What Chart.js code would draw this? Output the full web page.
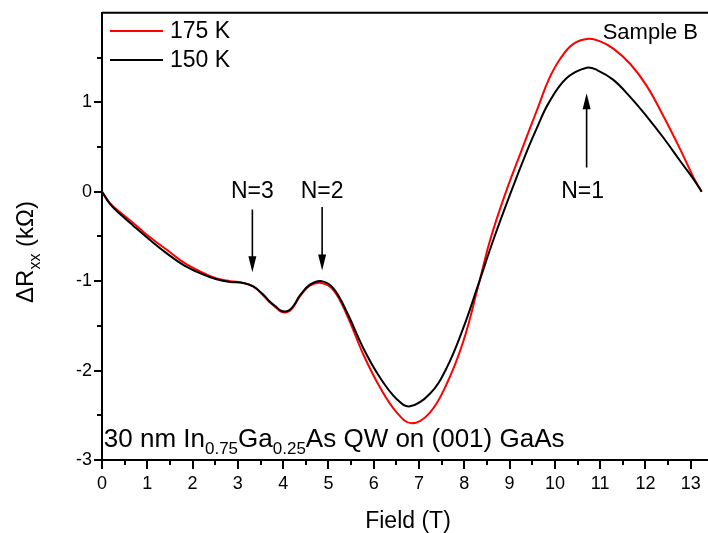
<!DOCTYPE html>
<html>
<head>
<meta charset="utf-8">
<script src="https://cdn.jsdelivr.net/npm/chart.js@4/dist/chart.umd.min.js"></script>
<style>
  body { margin: 0; background: #fff; }
  canvas { display: block; }
</style>
</head>
<body>
<canvas id="grafica" width="708" height="533"></canvas>
<script>
// valores: campo (T) y delta Rxx (kOhm)
var field175 = [0, 0.18, 0.4, 0.69, 1.06, 1.43, 1.8, 2.16, 2.53, 2.83, 3.12, 3.34, 3.56, 3.71, 3.85, 3.95, 4.05, 4.15, 4.25, 4.37, 4.59, 4.85, 5.11, 5.4, 5.77, 6.14, 6.51, 6.84, 7.24, 7.61, 7.98, 8.31, 8.57, 8.9, 9.27, 9.45, 9.64, 9.86, 10.11, 10.4, 10.74, 11.0, 11.29, 11.66, 12.03, 12.4, 12.77, 13.06, 13.24];
var dR175    = [0, -0.13, -0.23, -0.35, -0.51, -0.65, -0.79, -0.89, -0.97, -1.0, -1.02, -1.06, -1.16, -1.24, -1.3, -1.34, -1.35, -1.33, -1.27, -1.17, -1.05, -1.02, -1.1, -1.37, -1.82, -2.19, -2.47, -2.59, -2.47, -2.15, -1.67, -1.05, -0.54, -0.03, 0.47, 0.71, 0.96, 1.25, 1.48, 1.65, 1.71, 1.68, 1.6, 1.43, 1.18, 0.84, 0.47, 0.16, 0];

var field150 = [0, 0.18, 0.4, 0.69, 1.06, 1.43, 1.8, 2.16, 2.53, 2.83, 3.12, 3.34, 3.56, 3.71, 3.85, 3.95, 4.05, 4.15, 4.25, 4.37, 4.59, 4.85, 5.11, 5.4, 5.77, 6.14, 6.51, 6.8, 7.24, 7.61, 7.98, 8.3, 8.64, 9.01, 9.38, 9.6, 9.86, 10.26, 10.7, 10.93, 11.29, 11.66, 12.03, 12.4, 12.77, 13.06, 13.24];
var dR150    = [0, -0.14, -0.25, -0.38, -0.54, -0.69, -0.82, -0.91, -0.98, -1.01, -1.02, -1.06, -1.15, -1.23, -1.29, -1.33, -1.34, -1.32, -1.26, -1.16, -1.04, -1.0, -1.08, -1.34, -1.75, -2.08, -2.32, -2.4, -2.26, -1.97, -1.52, -1.05, -0.54, -0.03, 0.45, 0.71, 0.99, 1.27, 1.386, 1.36, 1.25, 1.06, 0.84, 0.6, 0.34, 0.14, 0];

var xTicks = [0, 1, 2, 3, 4, 5, 6, 7, 8, 9, 10, 11, 12, 13];
var yTicks = [-3, -2, -1, 0, 1];

// flechas de niveles de Landau: [texto, x, y texto, y inicio, y punta]
var flechas = [
  ["N=3", 3.32, 0.0, -0.2, -0.9],
  ["N=2", 4.86, 0.0, -0.17, -0.88],
  ["N=1", 10.7, 0.0, 0.27, 1.1]
];

var fuente = "'Liberation Sans', Arial, sans-serif";
Chart.defaults.font.family = fuente;
Chart.defaults.font.size = 18;
Chart.defaults.color = "#000";

function puntos(xs, ys) {
  return xs.map(function (v, i) { return { x: v, y: ys[i] }; });
}

// dibuja texto con subindices, devuelve el ancho
function textoRico(ctx, partes, x, y, size, medir) {
  var w = 0;
  for (var i = 0; i < partes.length; i++) {
    var sub = partes[i][1];
    ctx.font = (sub ? Math.round(size * 0.66) : size) + "px " + fuente;
    if (!medir) ctx.fillText(partes[i][0], x + w, y + (sub ? size * 0.3 : 0));
    w += ctx.measureText(partes[i][0]).width;
  }
  return w;
}

function flecha(ctx, x, y1, y2) {
  var dir = y2 > y1 ? 1 : -1;
  ctx.beginPath();
  ctx.moveTo(x, y1);
  ctx.lineTo(x, y2 - dir * 12);
  ctx.stroke();
  ctx.beginPath();
  ctx.moveTo(x, y2);
  ctx.lineTo(x - 4, y2 - dir * 16);
  ctx.lineTo(x + 4, y2 - dir * 16);
  ctx.closePath();
  ctx.fill();
}

var decoracion = {
  id: "decoracion",
  afterDraw: function (chart) {
    var ctx = chart.ctx, sx = chart.scales.x, sy = chart.scales.y, a = chart.chartArea;
    ctx.save();
    ctx.strokeStyle = "#000";
    ctx.fillStyle = "#000";
    ctx.lineWidth = 2;

    // marco superior
    ctx.beginPath();
    ctx.moveTo(a.left, a.top);
    ctx.lineTo(a.right, a.top);
    ctx.stroke();

    // ticks menores
    ctx.beginPath();
    for (var v = 0.5; v < sx.max; v += 1) {
      var px = Math.round(sx.getPixelForValue(v));
      ctx.moveTo(px, a.bottom);
      ctx.lineTo(px, a.bottom + 5);
    }
    for (var w = -2.5; w < sy.max; w += 1) {
      var py = Math.round(sy.getPixelForValue(w));
      ctx.moveTo(a.left, py);
      ctx.lineTo(a.left - 5, py);
    }
    ctx.stroke();

    // leyenda
    var ds = chart.data.datasets;
    var leyenda = [ds[1], ds[0]];
    ctx.textBaseline = "middle";
    ctx.textAlign = "left";
    ctx.font = "23px " + fuente;
    for (var i = 0; i < leyenda.length; i++) {
      var ly = 31 + i * 29;
      ctx.strokeStyle = leyenda[i].borderColor;
      ctx.beginPath();
      ctx.moveTo(110, ly);
      ctx.lineTo(163, ly);
      ctx.stroke();
      ctx.fillText(leyenda[i].label, 170, ly + 1);
    }

    // flechas y etiquetas N
    ctx.strokeStyle = "#000";
    ctx.lineWidth = 1.6;
    ctx.textAlign = "center";
    for (var k = 0; k < flechas.length; k++) {
      var f = flechas[k];
      var fx = sx.getPixelForValue(f[1]);
      ctx.fillText(f[0], fx - (k == 2 ? 4 : 0), sy.getPixelForValue(f[2]));
      flecha(ctx, fx, sy.getPixelForValue(f[3]), sy.getPixelForValue(f[4]));
    }

    // Sample B
    ctx.textAlign = "right";
    ctx.font = "22px " + fuente;
    ctx.fillText("Sample B", sx.getPixelForValue(13.16), sy.getPixelForValue(1.77));

    // texto de la muestra
    ctx.textAlign = "left";
    ctx.textBaseline = "alphabetic";
    textoRico(ctx, [["30 nm In", 0], ["0.75", 1], ["Ga", 0], ["0.25", 1], ["As QW on (001) GaAs", 0]],
      sx.getPixelForValue(0.04), sy.getPixelForValue(-2.85), 26);

    // titulo eje x
    ctx.textAlign = "center";
    ctx.font = "23px " + fuente;
    ctx.fillText("Field (T)", (a.left + a.right) / 2 + 3, 528);

    // titulo eje y
    var partesY = [["\u0394R", 0], ["xx", 1], [" (k\u03A9)", 0]];
    ctx.textAlign = "left";
    var ancho = textoRico(ctx, partesY, 0, 0, 24, true);
    ctx.translate(33, 252);
    ctx.rotate(-Math.PI / 2);
    textoRico(ctx, partesY, -ancho / 2, 0, 24);
    ctx.restore();
  }
};

var ctxGrafica = document.getElementById("grafica").getContext("2d");

window.miGrafica = new Chart(ctxGrafica, {
  type: "line",
  data: {
    datasets: [
      {
        label: "150 K",
        data: puntos(field150, dR150),
        borderColor: "#000000",
        borderWidth: 2,
        pointRadius: 0,
        tension: 0.4,
        order: 0
      },
      {
        label: "175 K",
        data: puntos(field175, dR175),
        borderColor: "#ff0000",
        borderWidth: 2,
        pointRadius: 0,
        tension: 0.4,
        order: 1
      }
    ]
  },
  options: {
    responsive: false,
    animation: false,
    layout: { padding: { top: 8, left: 0, right: 0, bottom: 0 } },
    plugins: {
      legend: { display: false },
      tooltip: { enabled: false }
    },
    scales: {
      x: {
        type: "linear",
        min: 0,
        max: 13.38,
        afterFit: function (s) { s.height = 73; },
        afterBuildTicks: function (s) { s.ticks = xTicks.map(function (v) { return { value: v }; }); },
        ticks: { padding: 4, maxRotation: 0, autoSkip: false, font: { size: 18 } },
        grid: { drawOnChartArea: false, color: "#000", lineWidth: 2, tickLength: 9 },
        border: { color: "#000", width: 2 }
      },
      y: {
        type: "linear",
        min: -3,
        max: 2,
        afterFit: function (s) { s.width = 102; },
        afterBuildTicks: function (s) { s.ticks = yTicks.map(function (v) { return { value: v }; }); },
        ticks: { padding: 2, font: { size: 18 } },
        grid: { drawOnChartArea: false, color: "#000", lineWidth: 2, tickLength: 8 },
        border: { color: "#000", width: 2 }
      }
    }
  },
  plugins: [decoracion]
});
</script>
</body>
</html>
